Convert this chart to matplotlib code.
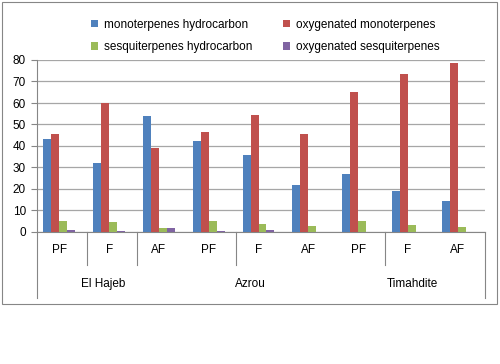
import matplotlib.pyplot as plt
from matplotlib.patches import Rectangle
import numpy as np

plt.rcParams['font.family'] = ['Liberation Sans', 'DejaVu Sans']

sub_labels = ['PF', 'F', 'AF', 'PF', 'F', 'AF', 'PF', 'F', 'AF']
group_labels = ['El Hajeb', 'Azrou', 'Timahdite']
group_label_x = [0.83, 3.79, 7.05]
separator_x = [0.5, 1.5, 3.5, 6.5]

mono_hc = [43.2, 32, 54, 42.3, 36, 22, 27, 19, 14.5]
oxy_mono = [45.5, 60, 39, 46.5, 54.4, 45.6, 65.3, 73.6, 78.7]
sesq_hc = [5.1, 4.6, 1.9, 5, 3.7, 2.8, 5.1, 3.3, 2.3]
oxy_sesq = [1, 0.5, 1.9, 0.4, 1, 0, 0, 0, 0]

series = [
    ('monoterpenes hydrocarbon', mono_hc, '#4F81BD'),
    ('oxygenated monoterpenes', oxy_mono, '#C0504D'),
    ('sesquiterpenes hydrocarbon', sesq_hc, '#9BBB59'),
    ('oxygenated sesquiterpenes', oxy_sesq, '#8064A2'),
]

fig = plt.figure(figsize=(5, 3.64), dpi=100)
fig.patches.append(Rectangle((2 / 500, 1 - 304 / 364), 495 / 500, 302 / 364,
                             transform=fig.transFigure, fill=False,
                             edgecolor='#868686', linewidth=0.8))

ax = fig.add_axes([37 / 500, 1 - 232 / 364, 448 / 500, 172 / 364])
x = np.arange(len(sub_labels))
w = 0.16
bars = {}
for i, (name, vals, col) in enumerate(series):
    bars[name] = ax.bar(x + (i - 1.5) * w - 0.05, vals, w, color=col, label=name, zorder=3)

ax.set_xlim(-0.5, len(sub_labels) - 0.5)
ax.set_ylim(0, 80)
ax.set_yticks(range(0, 81, 10))
ax.yaxis.grid(True, color='#A6A6A6', linewidth=0.9, zorder=0)
for s in ['top', 'right']:
    ax.spines[s].set_visible(False)
ax.spines['left'].set_color('#868686')
ax.spines['bottom'].set_color('#868686')
ax.tick_params(axis='y', length=4, color='#868686', labelsize=8.5, pad=4)
ax.set_xticks([])

trans = ax.get_xaxis_transform()
for xi, lab in zip(x, sub_labels):
    ax.text(xi - 0.05, -0.105, lab, transform=trans, ha='center', va='center', fontsize=8.5)
for gx, lab in zip(group_label_x, group_labels):
    ax.text(gx, -0.302, lab, transform=trans, ha='center', va='center', fontsize=8.5)
for sx in separator_x:
    ax.plot([sx, sx], [0, -0.19], transform=trans, color='#868686', lw=0.8, clip_on=False)
for sx in [-0.5, len(sub_labels) - 0.5]:
    ax.plot([sx, sx], [0, -0.384], transform=trans, color='#868686', lw=0.8, clip_on=False)

handles = [bars[series[0][0]], bars[series[2][0]], bars[series[1][0]], bars[series[3][0]]]
labels = [series[0][0], series[2][0], series[1][0], series[3][0]]
fig.legend(handles, labels, ncol=2, loc='upper left', bbox_to_anchor=(80 / 500, 1 - 8 / 364),
           frameon=False, fontsize=8.5, handlelength=0.6, handleheight=0.6,
           handletextpad=0.5, columnspacing=2.6, labelspacing=0.9)

fig.savefig('out.png', dpi=100)
